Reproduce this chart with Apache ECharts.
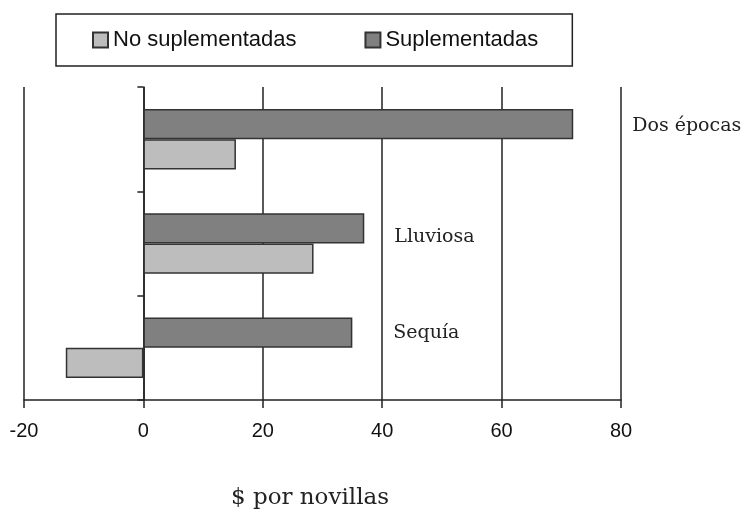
<!DOCTYPE html>
<html>
<head>
<meta charset="utf-8">
<script src="https://cdn.jsdelivr.net/npm/echarts@6/dist/echarts.min.js"></script>
<style>html,body{margin:0;padding:0;background:#fff;}#c{width:742px;height:516px;}</style>
</head>
<body>
<div id="c"></div>
<script>
// Data (bottom to top on the category axis)
var categories = ['Sequía', 'Lluviosa', 'Dos épocas'];
var noSuplementadas = [-13, 28.5, 15.5];
var suplementadas = [35, 37, 72];
var xTicks = [-20, 0, 20, 40, 60, 80];
var seriesNames = ['No suplementadas', 'Suplementadas'];
var axisTitle = '$ por novillas';

// label placement per category (style only)
var catLabelOffsets = [[36, 0], [25, 9], [54, 2]];

var chart = echarts.init(document.getElementById('c'), null, {renderer: 'canvas'});
var option = {
  animation: false,
  backgroundColor: '#fff',
  legend: {
    data: seriesNames,
    left: 56, top: 14,
    padding: [15, 34, 15, 36],
    borderColor: '#222', borderWidth: 1.5,
    icon: 'rect',
    itemWidth: 15, itemHeight: 15, itemGap: 68,
    textStyle: {fontFamily: 'Liberation Sans', fontSize: 22, color: '#111'}
  },
  grid: {left: 24, right: 121, top: 87, bottom: 116, containLabel: false},
  xAxis: {
    type: 'value', min: xTicks[0], max: xTicks[xTicks.length - 1], interval: 20,
    axisLine: {show: true, lineStyle: {color: '#222', width: 1.5}},
    axisTick: {show: true, length: 8, lineStyle: {color: '#222', width: 1.5}},
    axisLabel: {margin: 21, fontFamily: 'Liberation Sans', fontSize: 20, color: '#111'},
    splitLine: {show: true, lineStyle: {color: '#222', width: 1.5}},
    name: axisTitle, nameLocation: 'middle', nameGap: 87,
    nameTextStyle: {fontFamily: 'DejaVu Serif', fontSize: 23, color: '#222', padding: [0, 25, 0, 0]}
  },
  yAxis: {
    type: 'category', data: categories,
    axisLine: {show: true, onZero: true, lineStyle: {color: '#222', width: 1.5}},
    axisTick: {show: true, length: 6, lineStyle: {color: '#222', width: 1.5}},
    axisLabel: {show: false},
    splitLine: {show: false}
  },
  series: [
    {
      name: seriesNames[1], type: 'bar',
      data: suplementadas.map(function (v, i) {
        return {value: v, label: {show: true, offset: catLabelOffsets[i]}};
      }),
      barGap: '0%', barCategoryGap: '42%',
      itemStyle: {color: '#808080', borderColor: '#333', borderWidth: 1.5},
      label: {
        show: true, position: 'right', distance: 5,
        formatter: function (p) { return categories[p.dataIndex]; },
        fontFamily: 'DejaVu Serif', fontSize: 19, color: '#222'
      }
    },
    {
      name: seriesNames[0], type: 'bar', data: noSuplementadas,
      barGap: '0%', barCategoryGap: '42%',
      itemStyle: {color: '#bdbdbd', borderColor: '#333', borderWidth: 1.5}
    }
  ]
};
chart.setOption(option);
</script>
</body>
</html>
